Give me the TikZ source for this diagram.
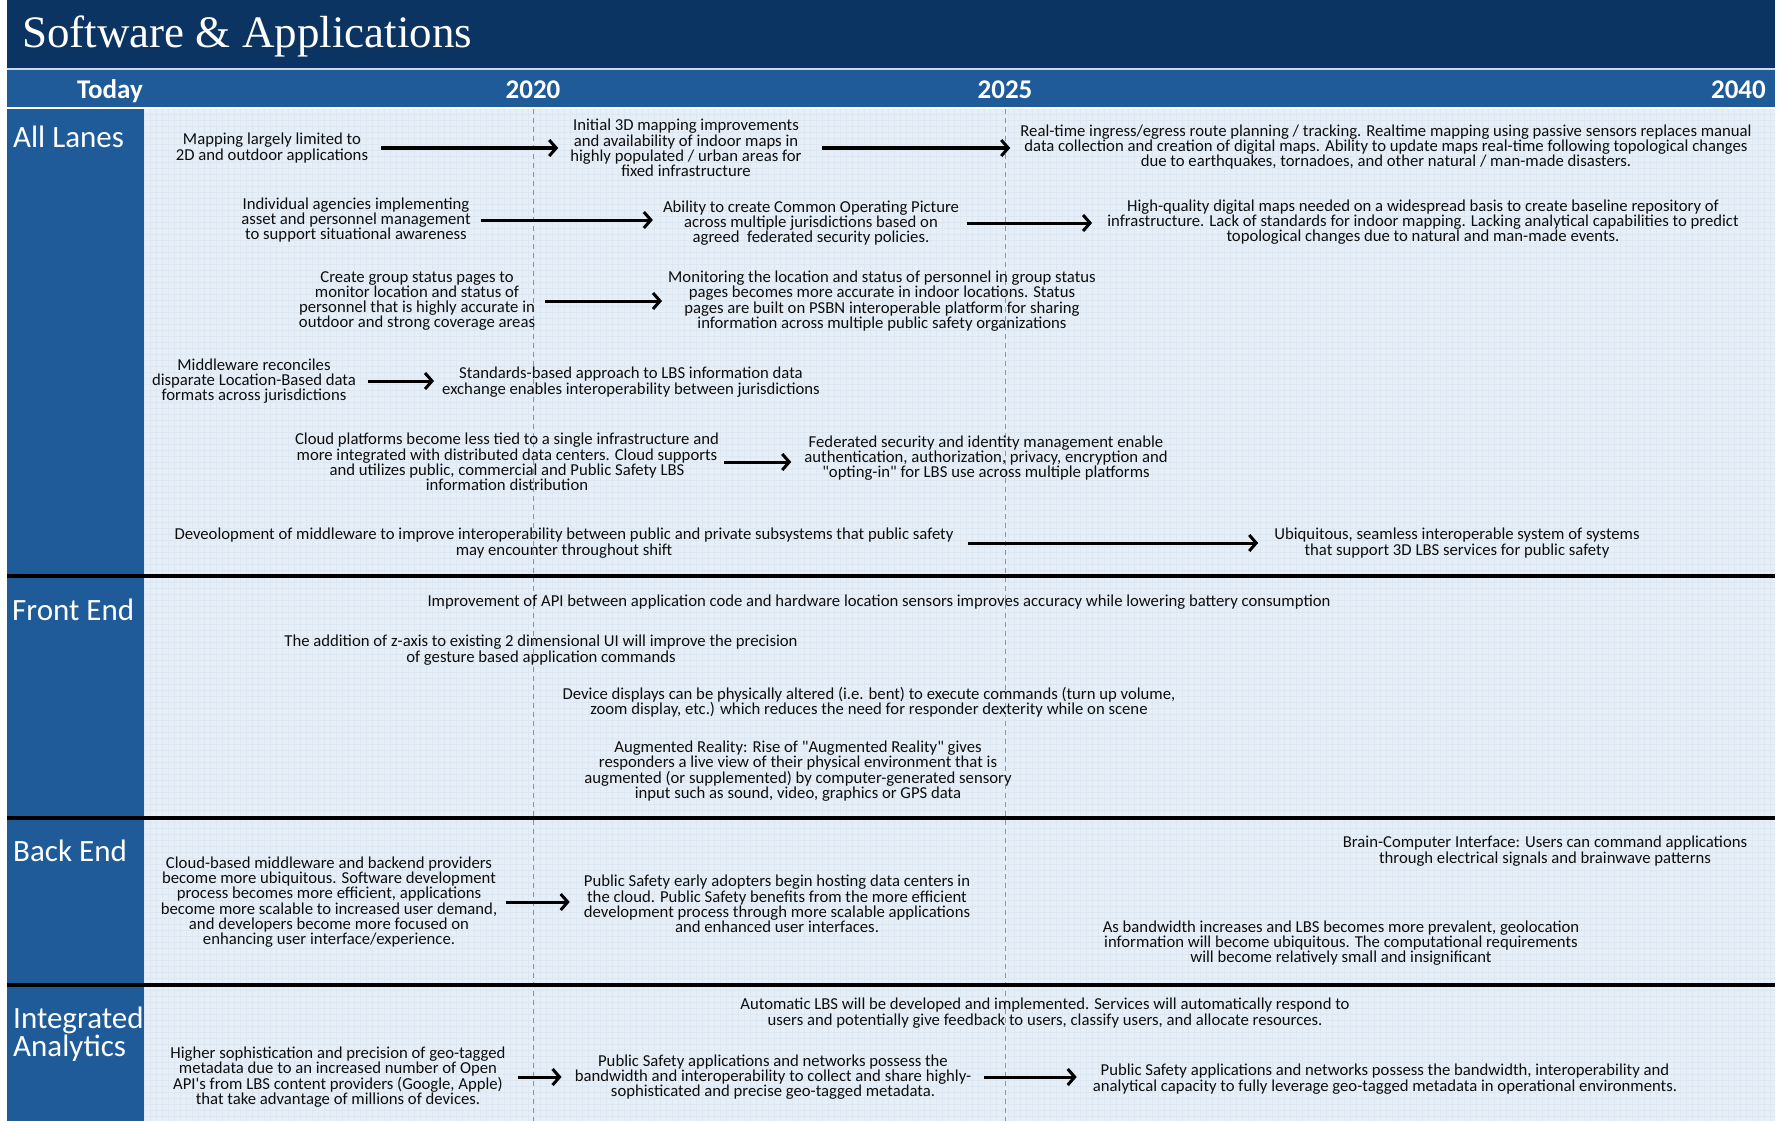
\documentclass[tikz,border=0pt]{standalone}
\usepackage{fontspec}
\setmainfont{Carlito}[Ligatures=TeXOff]
\newfontfamily\titlefont{Liberation Serif}
\usetikzlibrary{arrows.meta}
\definecolor{navy}{HTML}{0C3462}
\definecolor{hdrblue}{HTML}{1F5B98}
\definecolor{laneblue}{HTML}{1E5B98}
\definecolor{bgblue}{HTML}{E6EFF8}
\definecolor{gridblue}{HTML}{DDE7F2}
\definecolor{sepline}{HTML}{C9DAEC}
\tikzset{
  txt/.style={align=center, inner sep=0pt, text=black!95, font=\fontsize{16.7}{15.3}\selectfont},
  lanelbl/.style={anchor=base west, inner sep=0pt, text=white, font=\fontsize{31}{26}\selectfont, align=left},
  yearlbl/.style={anchor=base, inner sep=0pt, text=white, font=\bfseries\fontsize{27}{27}\selectfont},
  arr/.style={line width=3pt, -{Straight Barb[length=7pt,width=16pt]}},
  yearline/.style={draw=gray!85, line width=0.9pt, dash pattern=on 5pt off 4pt},
  lanesep/.style={line width=3.5pt, black},
}
\begin{document}
\begin{tikzpicture}[x=1pt,y=-1pt]
\useasboundingbox (0,0) rectangle (1777,1121);
\fill[white] (0,0) rectangle (1777,1121);
% title and header bands
\fill[navy] (7,0) rectangle (1775,68);
\fill[sepline] (7,68) rectangle (1775,70);
\fill[hdrblue] (7,70) rectangle (1775,107);
\fill[bgblue] (144,109) rectangle (1775,1121);
\draw[gridblue, line width=0.35pt] (144,109) grid[step=6pt] (1775,1121);
\fill[laneblue] (7,109) rectangle (144,1121);
\coordinate (ctop) at (0,109);
\coordinate (cbot) at (0,1121);
\node[anchor=base west, inner sep=0pt, text=white, font=\titlefont\fontsize{45}{45}\selectfont] (title) at (22,48) {Software \& Applications};
\node[yearlbl] (ytoday) at (110,99) {Today};
\node[yearlbl] (y2020) at (533,99) {2020};
\node[yearlbl] (y2025) at (1005,99) {2025};
\node[yearlbl, anchor=base east] (y2040) at (1766,99) {2040};
\draw[yearline] (y2020 |- ctop) -- (y2020 |- cbot);
\draw[yearline] (y2025 |- ctop) -- (y2025 |- cbot);
% lane separators
\draw[lanesep] (7,576) -- (1775,576);
\draw[lanesep] (7,818) -- (1775,818);
\draw[lanesep] (7,985) -- (1775,985);
% lane labels
\node[lanelbl] (lall) at (13,147) {All Lanes};
\node[lanelbl] (lfront) at (12,620) {Front End};
\node[lanelbl] (lback) at (13,861) {Back End};
\node[lanelbl] (lint) at (13,1056) {Integrated\\Analytics};
% All Lanes
\node[txt] (n1) at (272,148) {Mapping largely limited to\\2D and outdoor applications};
\node[txt] (n3) at (686,148) {Initial 3D mapping improvements\\and availability of indoor maps in\\highly populated / urban areas for\\fixed infrastructure};
\node[txt] (n5) at (1386,147) {Real-time ingress/egress route planning / tracking. Realtime mapping using passive sensors replaces manual\\data collection and creation of digital maps. Ability to update maps real-time following topological changes\\due to earthquakes, tornadoes, and other natural / man-made disasters.};
\node[txt] (n6) at (356,220) {Individual agencies implementing\\asset and personnel management\\to support situational awareness};
\node[txt] (n8) at (811,223) {Ability to create Common Operating Picture\\across multiple jurisdictions based on\\agreed~ federated security policies.};
\node[txt] (n10) at (1423,222) {High-quality digital maps needed on a widespread basis to create baseline repository of\\infrastructure. Lack of standards for indoor mapping. Lacking analytical capabilities to predict\\topological changes due to natural and man-made events.};
\node[txt] (n11) at (417,301) {Create group status pages to\\monitor location and status of\\personnel that is highly accurate in\\outdoor and strong coverage areas};
\node[txt] (n13) at (882,301) {Monitoring the location and status of personnel in group status\\pages becomes more accurate in indoor locations. Status\\pages are built on PSBN interoperable platform for sharing\\information across multiple public safety organizations};
\node[txt] (n14) at (254,381) {Middleware reconciles\\disparate Location-Based data\\formats across jurisdictions};
\node[txt] (n16) at (631,382) {Standards-based approach to LBS information data\\exchange enables interoperability between jurisdictions};
\node[txt] (n17) at (507,462) {Cloud platforms become less tied to a single infrastructure and\\more integrated with distributed data centers. Cloud supports\\and utilizes public, commercial and Public Safety LBS\\information distribution};
\node[txt] (n19) at (986,458) {Federated security and identity management enable\\authentication, authorization, privacy, encryption and\\"opting-in" for LBS use across multiple platforms};
\node[txt] (n20) at (564,543) {Deveolopment of middleware to improve interoperability between public and private subsystems that public safety\\may encounter throughout shift};
\node[txt] (n22) at (1457,543) {Ubiquitous, seamless interoperable system of systems\\that support 3D LBS services for public safety};
% Front End
\node[txt] (n23) at (879,602) {Improvement of API between application code and hardware location sensors improves accuracy while lowering battery consumption};
\node[txt] (n24) at (541,650) {The addition of z-axis to existing 2 dimensional UI will improve the precision\\of gesture based application commands};
\node[txt] (n25) at (869,702) {Device displays can be physically altered (i.e. bent) to execute commands (turn up volume,\\zoom display, etc.) which reduces the need for responder dexterity while on scene};
\node[txt] (n26) at (798,771) {Augmented Reality: Rise of "Augmented Reality" gives\\responders a live view of their physical environment that is\\augmented (or supplemented) by computer-generated sensory\\input such as sound, video, graphics or GPS data};
% Back End
\node[txt] (n27) at (329,902) {Cloud-based middleware and backend providers\\become more ubiquitous. Software development\\process becomes more efficient, applications\\become more scalable to increased user demand,\\and developers become more focused on\\enhancing user interface/experience.};
\node[txt] (n29) at (777,904) {Public Safety early adopters begin hosting data centers in\\the cloud. Public Safety benefits from the more efficient\\development process through more scalable applications\\and enhanced user interfaces.};
\node[txt] (n30) at (1545,851) {Brain-Computer Interface: Users can command applications\\through electrical signals and brainwave patterns};
\node[txt] (n31) at (1341,943) {As bandwidth increases and LBS becomes more prevalent, geolocation\\information will become ubiquitous. The computational requirements\\will become relatively small and insignificant};
% Integrated Analytics
\node[txt] (n32) at (1045,1013) {Automatic LBS will be developed and implemented. Services will automatically respond to\\users and potentially give feedback to users, classify users, and allocate resources.};
\node[txt] (n33) at (338,1077) {Higher sophistication and precision of geo-tagged\\metadata due to an increased number of Open\\API's from LBS content providers (Google, Apple)\\that take advantage of millions of devices.};
\node[txt] (n35) at (773,1077) {Public Safety applications and networks possess the\\bandwidth and interoperability to collect and share highly-\\sophisticated and precise geo-tagged metadata.};
\node[txt] (n37) at (1385,1079) {Public Safety applications and networks possess the bandwidth, interoperability and\\analytical capacity to fully leverage geo-tagged metadata in operational environments.};
% arrows
\draw[arr, shorten <=13pt, shorten >=12pt] (n1.east) -- (n1.east -| n3.west);
\draw[arr, shorten <=20pt, shorten >=10pt] (n3.east) -- (n3.east -| n5.west);
\draw[arr, shorten <=10pt, shorten >=10pt] (n6.east) -- (n6.east -| n8.west);
\draw[arr, shorten <=8pt, shorten >=15pt] (n8.east) -- (n8.east -| n10.west);
\draw[arr, shorten <=10pt, shorten >=6pt] (n11.east) -- (n11.east -| n13.west);
\draw[arr, shorten <=12pt, shorten >=8pt] (n14.east) -- (n14.east -| n16.west);
\draw[arr, shorten <=5pt, shorten >=13pt] (n17.east) -- (n17.east -| n19.west);
\draw[arr, shorten <=14pt, shorten >=16pt] (n20.east) -- (n20.east -| n22.west);
\draw[arr, shorten <=9pt, shorten >=14pt] (n27.east) -- (n27.east -| n29.west);
\draw[arr, shorten <=12pt, shorten >=13pt] (n33.east) -- (n33.east -| n35.west);
\draw[arr, shorten <=13pt, shorten >=16pt] (n35.east) -- (n35.east -| n37.west);
\end{tikzpicture}
\end{document}
